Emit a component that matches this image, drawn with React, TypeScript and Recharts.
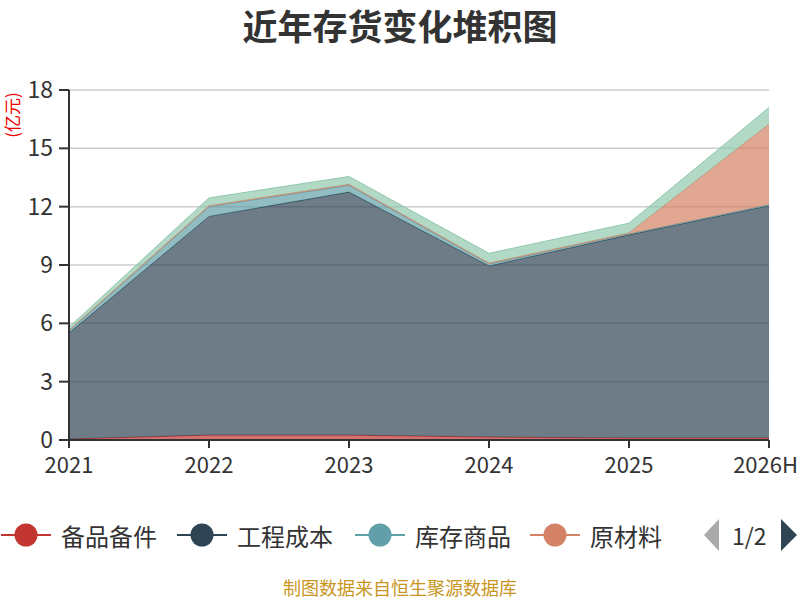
import { AreaChart, Area, XAxis, YAxis, CartesianGrid } from "recharts";

const years = ["2021", "2022", "2023", "2024", "2025", "2026H"];
const spareParts = [0.05, 0.25, 0.25, 0.15, 0.1, 0.1];
const engineeringCost = [5.45, 11.25, 12.5, 8.8, 10.45, 11.95];
const inventoryGoods = [0.1, 0.5, 0.35, 0.1, 0.05, 0.05];
const rawMaterials = [0.05, 0.05, 0.05, 0.05, 0.05, 4.15];
const otherItems = [0.15, 0.4, 0.4, 0.5, 0.5, 0.85];
const yTicks = [0, 3, 6, 9, 12, 15, 18];

const series = [
  { key: "备品备件", values: spareParts, color: "#c23531" },
  { key: "工程成本", values: engineeringCost, color: "#2f4554" },
  { key: "库存商品", values: inventoryGoods, color: "#61a0a8" },
  { key: "原材料", values: rawMaterials, color: "#d48265" },
  { key: "其他", values: otherItems, color: "#91c7ae" },
];

// left edge of each legend label text
const legendTextX = [61, 237, 415, 590];

const data = years.map((year, i) => {
  const row: Record<string, string | number> = { year };
  series.forEach((s) => {
    row[s.key] = s.values[i];
  });
  return row;
});

const font = "'Noto Sans CJK SC', 'Noto Sans', sans-serif";

// last label is kept inside the canvas, like the original
const YearTick = (props: any) => {
  const { x, y, payload, index } = props;
  const last = index === years.length - 1;
  return (
    <text x={last ? 798 : x} y={y} dy="0.71em" textAnchor={last ? "end" : "middle"} fill="#333" fontSize={22} fontFamily={font}>
      {payload.value}
    </text>
  );
};

export default function App() {
  return (
    <div style={{ position: "absolute", left: 0, top: 0, width: 800, height: 600, background: "#fff", fontFamily: font, overflow: "hidden" }}>
      <div style={{ position: "absolute", top: 7, width: 800, lineHeight: "36px", textAlign: "center", fontSize: 35, fontWeight: "bold", color: "#333" }}>
        近年存货变化堆积图
      </div>
      <svg width={24} height={80} style={{ position: "absolute", left: 0, top: 75 }}>
        <text x={14} y={40} transform="rotate(-90 14 40)" textAnchor="middle" dominantBaseline="middle" fontSize={17} fill="#e00" fontFamily={font}>
          (亿元)
        </text>
      </svg>
      <AreaChart width={800} height={600} data={data} margin={{ top: 90, right: 31, left: 0, bottom: 130 }}>
        <CartesianGrid vertical={false} stroke="#ccc" strokeWidth={1.5} />
        <XAxis
          dataKey="year"
          height={30}
          axisLine={{ stroke: "#333", strokeWidth: 2 }}
          tickLine={{ stroke: "#333", strokeWidth: 2 }}
          tickSize={8}
          tickMargin={9}
          tick={<YearTick />}
          interval={0}
        />
        <YAxis
          width={69}
          domain={[0, 18]}
          ticks={yTicks}
          axisLine={{ stroke: "#333", strokeWidth: 2 }}
          tickLine={{ stroke: "#333", strokeWidth: 2 }}
          tickSize={10}
          tickMargin={6}
          tick={{ fill: "#333", fontSize: 23, fontFamily: font }}
          interval={0}
        />
        {series.map((s) => (
          <Area
            key={s.key}
            type="linear"
            dataKey={s.key}
            stackId="a"
            stroke={s.color}
            strokeWidth={1}
            fill={s.color}
            fillOpacity={0.7}
            dot={false}
            activeDot={false}
            isAnimationActive={false}
          />
        ))}
      </AreaChart>
      {series.slice(0, 4).map((s, i) => (
        <div key={s.key} style={{ position: "absolute", top: 519, left: legendTextX[i] - 60, height: 32, display: "flex", alignItems: "center", whiteSpace: "nowrap", fontSize: 24, color: "#333" }}>
          <svg width={50} height={32} style={{ marginRight: 10, flexShrink: 0 }}>
            <line x1={0} y1={16} x2={50} y2={16} stroke={s.color} strokeWidth={2} />
            <circle cx={25} cy={16} r={11.5} fill={s.color} />
          </svg>
          <span>{s.key}</span>
        </div>
      ))}
      <div style={{ position: "absolute", top: 519, left: 703, height: 32, display: "flex", alignItems: "center", whiteSpace: "nowrap", fontSize: 23, color: "#333" }}>
        <svg width={17} height={32}>
          <polygon points="16,0 16,32 1,16" fill="#aaa" />
        </svg>
        <span style={{ marginLeft: 12, marginRight: 13 }}>1/2</span>
        <svg width={18} height={32}>
          <polygon points="1,0 1,32 17,16" fill="#2f4554" />
        </svg>
      </div>
      <div style={{ position: "absolute", top: 576, width: 800, lineHeight: "22px", textAlign: "center", fontSize: 18, color: "#c8961e" }}>
        制图数据来自恒生聚源数据库
      </div>
    </div>
  );
}
